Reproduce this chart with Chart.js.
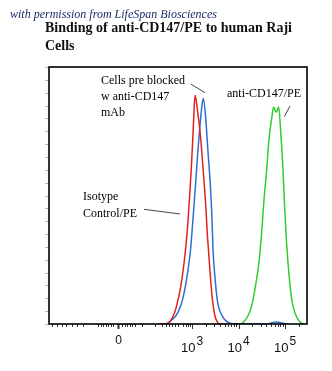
<!DOCTYPE html>
<html>
<head>
<meta charset="utf-8">
<script src="https://cdn.jsdelivr.net/npm/chart.js@4/dist/chart.umd.min.js"></script>
<style>
  body { margin: 0; background: #fff; }
  #wrap { position: relative; width: 332px; height: 371px; }
  #title {
    position: absolute; left: 45px; top: 19px; width: 280px;
    font: bold 14px "Liberation Serif", "Times New Roman", serif;
    line-height: 18px; color: #111;
  }
  #credit {
    position: absolute; left: 10px; top: 7px; white-space: nowrap;
    font: italic 12px "Liberation Serif", serif; color: #1d2b6b;
  }
</style>
</head>
<body>
<div id="wrap">
  <canvas id="histo"></canvas>
  <div id="title">Binding of anti-CD147/PE to human Raji<br>Cells</div>
  <div id="credit">with permission from LifeSpan Biosciences</div>
</div>
<script>
// x values are in display decades (3 = 10^3, 4 = 10^4 ...), y is % of max
const isoX = [2.3, 2.441, 2.527, 2.591, 2.645, 2.699, 2.763, 2.86, 2.914, 2.957, 2.989, 3.017, 3.039, 3.065,
  3.123, 3.187, 3.243, 3.295, 3.333, 3.355, 3.387, 3.43, 3.462, 3.495, 3.538, 3.581, 3.75];
const isoY = [0, 0, 1, 3, 5.5, 9.4, 15, 28.8, 40, 52, 62, 72, 81, 89,
  82.5, 72.2, 59.2, 46.3, 34, 28.8, 20.4, 11, 6.5, 3, 1, 0, 0];

const blockedX = [2.3, 2.419, 2.527, 2.645, 2.71, 2.796, 2.871, 2.968, 3.022, 3.075, 3.125, 3.172, 3.215, 3.243,
  3.295, 3.344, 3.394, 3.43, 3.452, 3.495, 3.544, 3.591, 3.656, 3.731, 3.839, 3.925,
  4.634, 4.72, 4.828, 4.935, 5.02];
const blockedY = [0, 0, 1, 3, 5, 9.4, 16, 28.8, 41, 54.1, 67, 77.4, 85.1, 87.7,
  80, 67, 54.1, 41, 28.8, 18, 9.4, 5.5, 3, 1.2, 0.2, 0,
  0, 0.5, 0.8, 0.4, 0];

const cd147X = [3.9, 4.032, 4.118, 4.183, 4.247, 4.312, 4.376, 4.441, 4.495, 4.548, 4.606, 4.656, 4.714, 4.753, 4.813, 4.865,
  4.903, 4.957, 4.985, 5.022, 5.071, 5.108, 5.15, 5.194, 5.258, 5.323, 5.409];
const cd147Y = [0, 0, 1, 2.5, 5, 9.4, 16, 24, 35, 48.2, 60, 72, 80, 84.4, 82.4, 84.4,
  76.1, 60, 48.2, 35, 22.4, 15, 9, 5.5, 2.5, 0.8, 0];

// axis ticks
const majorTicks = [1.419, 3, 4, 5];
const majorBase = ['0', '10', '10', '10'];
const majorExp = ['', '3', '4', '5'];
const minorTicks = [-0.01, 0.097, 0.204, 0.29, 0.42, 0.527, 0.656, 0.978, 1.043, 1.086, 1.151, 1.194, 1.258, 1.301,
  1.495, 1.559, 1.602, 1.667, 1.71, 1.774, 1.925, 2.204, 2.355, 2.441, 2.505, 2.57, 2.634, 2.699, 2.806, 2.871, 2.914, 2.957,
  3.301, 3.477, 3.602, 3.699, 3.778, 3.845, 3.903, 3.954,
  4.301, 4.477, 4.602, 4.699, 4.778, 4.845, 4.903, 4.954, 5.301];
const yTicks = [0, 5, 10, 15, 20, 25, 30, 35, 40, 45, 50, 55, 60, 65, 70, 75, 80, 85, 90, 95, 100];

function toPoints(xs, ys) {
    return xs.map((x, i) => ({ x: x, y: ys[i] }));
}

// frame, ticks, exponent labels and callouts
const decorations = {
    id: 'decorations',
    afterDraw(chart) {
        const ctx = chart.ctx;
        const area = chart.chartArea;
        const xs = chart.scales.x;
        const ys = chart.scales.y;
        ctx.save();

        // y ticks (faint)
        ctx.strokeStyle = '#b5b5b5';
        ctx.lineWidth = 1;
        yTicks.forEach(v => {
            const y = Math.round(ys.getPixelForValue(v)) + 0.5;
            ctx.beginPath();
            ctx.moveTo(area.left - 4, y);
            ctx.lineTo(area.left, y);
            ctx.stroke();
        });

        // x ticks
        ctx.strokeStyle = '#333';
        minorTicks.forEach(v => {
            const x = Math.round(xs.getPixelForValue(v)) + 0.5;
            ctx.beginPath();
            ctx.moveTo(x, area.bottom);
            ctx.lineTo(x, area.bottom + 3);
            ctx.stroke();
        });
        majorTicks.forEach((v, i) => {
            const x = Math.round(xs.getPixelForValue(v)) + 0.5;
            ctx.lineWidth = i === 0 ? 2 : 1;
            ctx.beginPath();
            ctx.moveTo(x, area.bottom);
            ctx.lineTo(x, area.bottom + 5);
            ctx.stroke();
        });

        // plot frame
        ctx.strokeStyle = '#000';
        ctx.lineWidth = 1.6;
        ctx.strokeRect(area.left, area.top, area.right - area.left, area.bottom - area.top);

        // x labels with superscript exponents
        ctx.fillStyle = '#111';
        ctx.textBaseline = 'alphabetic';
        majorTicks.forEach((v, i) => {
            const x = xs.getPixelForValue(v);
            if (!majorExp[i]) {
                ctx.font = '12px "Liberation Sans", Arial, sans-serif';
                ctx.textAlign = 'center';
                ctx.fillText(majorBase[i], x, area.bottom + 20);
                return;
            }
            ctx.font = '13px "Liberation Sans", Arial, sans-serif';
            const w1 = ctx.measureText(majorBase[i]).width;
            ctx.font = '12px "Liberation Sans", Arial, sans-serif';
            const w2 = ctx.measureText(majorExp[i]).width;
            const start = x - (w1 + 1 + w2) / 2;
            ctx.textAlign = 'left';
            ctx.font = '13px "Liberation Sans", Arial, sans-serif';
            ctx.fillText(majorBase[i], start, area.bottom + 28);
            ctx.font = '12px "Liberation Sans", Arial, sans-serif';
            ctx.fillText(majorExp[i], start + w1 + 1, area.bottom + 21);
        });

        // callouts
        ctx.font = '12px "Liberation Serif", "Times New Roman", serif';
        ctx.textAlign = 'left';
        ctx.fillStyle = '#000';
        ctx.fillText('Cells pre blocked', 101, 84);
        ctx.fillText('w anti-CD147', 101, 100);
        ctx.fillText('mAb', 101, 116);
        ctx.fillText('anti-CD147/PE', 227, 97);
        ctx.fillText('Isotype', 83, 200);
        ctx.fillText('Control/PE', 83, 217);

        ctx.strokeStyle = '#444';
        ctx.lineWidth = 1;
        [[190.7, 84, 205, 92.7], [290, 106, 284.3, 116.7], [144, 209.3, 180, 214]].forEach(l => {
            ctx.beginPath();
            ctx.moveTo(l[0], l[1]);
            ctx.lineTo(l[2], l[3]);
            ctx.stroke();
        });
        ctx.restore();
    }
};

const ctx = document.getElementById('histo').getContext('2d');
new Chart(ctx, {
    type: 'line',
    data: {
        datasets: [
            {
                label: 'Isotype Control/PE',
                data: toPoints(isoX, isoY),
                borderColor: '#e3221e',
                borderWidth: 1.5,
                pointRadius: 0,
                cubicInterpolationMode: 'monotone'
            },
            {
                label: 'Cells pre blocked w anti-CD147 mAb',
                data: toPoints(blockedX, blockedY),
                borderColor: '#2f6fd2',
                borderWidth: 1.5,
                pointRadius: 0,
                cubicInterpolationMode: 'monotone'
            },
            {
                label: 'anti-CD147/PE',
                data: toPoints(cd147X, cd147Y),
                borderColor: '#33cc33',
                borderWidth: 1.5,
                pointRadius: 0,
                cubicInterpolationMode: 'monotone'
            }
        ]
    },
    options: {
        responsive: true,
        maintainAspectRatio: false,
        animation: false,
        layout: {
            padding: { left: 49, top: 67, right: 25, bottom: 47 }
        },
        plugins: {
            legend: { display: false },
            tooltip: { enabled: false }
        },
        scales: {
            x: { type: 'linear', display: false, min: -0.075, max: 5.473 },
            y: { display: false, min: 0, max: 100 }
        }
    },
    plugins: [decorations]
});
</script>
</body>
</html>
